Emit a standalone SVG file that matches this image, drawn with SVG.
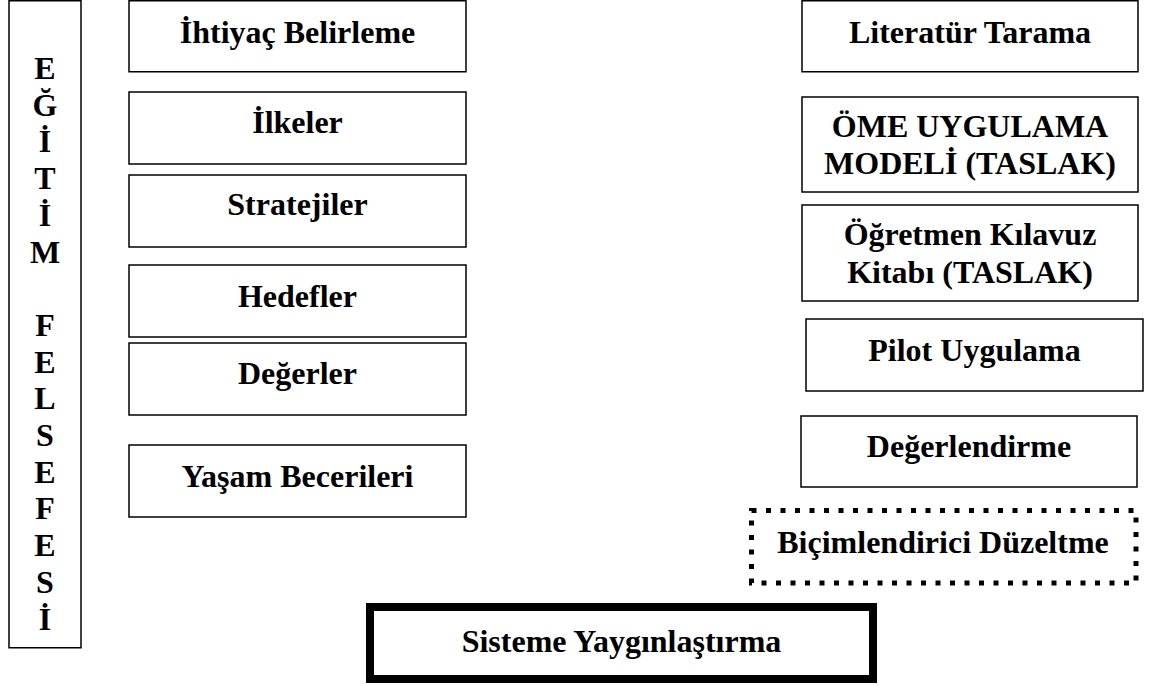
<svg xmlns="http://www.w3.org/2000/svg" width="1155" height="686" viewBox="0 0 1155 686">
  <style>
    .box { fill: #fff; stroke: #000; stroke-width: 1.5; }
    .dotted { fill: #fff; stroke: #000; stroke-width: 5; stroke-dasharray: 5 9.5; }
    .heavy { fill: #fff; stroke: #000; stroke-width: 8; }
    text { font-family: "Liberation Serif", "Times New Roman", serif; font-weight: bold; font-size: 32px; fill: #000; text-anchor: middle; }
  </style>
  <rect width="1155" height="686" fill="#fff"/>

  <!-- vertical philosophy bar -->
  <g id="egitim-felsefesi">
    <rect class="box" x="9" y="0.75" width="72" height="647"/>
    <text x="45" y="79">E</text>
    <text x="45" y="115.7">Ğ</text>
    <text x="45" y="152.4">İ</text>
    <text x="45" y="189.1">T</text>
    <text x="45" y="225.8">İ</text>
    <text x="45" y="262.5">M</text>
    <text x="45" y="335.9">F</text>
    <text x="45" y="372.6">E</text>
    <text x="45" y="409.3">L</text>
    <text x="45" y="446">S</text>
    <text x="45" y="482.7">E</text>
    <text x="45" y="519.4">F</text>
    <text x="45" y="556.1">E</text>
    <text x="45" y="592.8">S</text>
    <text x="45" y="629.5">İ</text>
  </g>

  <!-- left column -->
  <g id="ihtiyac-belirleme">
    <rect class="box" x="129" y="0.75" width="337" height="71"/>
    <text x="297.5" y="43">İhtiyaç Belirleme</text>
  </g>
  <g id="ilkeler">
    <rect class="box" x="129" y="92" width="337" height="72"/>
    <text x="297.5" y="133">İlkeler</text>
  </g>
  <g id="stratejiler">
    <rect class="box" x="129" y="175" width="337" height="72"/>
    <text x="297.5" y="215">Stratejiler</text>
  </g>
  <g id="hedefler">
    <rect class="box" x="129" y="265" width="337" height="72"/>
    <text x="297.5" y="307">Hedefler</text>
  </g>
  <g id="degerler">
    <rect class="box" x="129" y="343" width="337" height="72"/>
    <text x="297.5" y="384">Değerler</text>
  </g>
  <g id="yasam-becerileri">
    <rect class="box" x="129" y="445" width="337" height="72"/>
    <text x="297.5" y="487">Yaşam Becerileri</text>
  </g>

  <!-- right column -->
  <g id="literatur-tarama">
    <rect class="box" x="802" y="0.75" width="336" height="71"/>
    <text x="970" y="43">Literatür Tarama</text>
  </g>
  <g id="ome-model">
    <rect class="box" x="802" y="97" width="336" height="95"/>
    <text x="970" y="137">ÖME UYGULAMA</text>
    <text x="970" y="174">MODELİ (TASLAK)</text>
  </g>
  <g id="ogretmen-kilavuz">
    <rect class="box" x="802" y="205" width="336" height="96"/>
    <text x="970" y="245">Öğretmen Kılavuz</text>
    <text x="970" y="283">Kitabı (TASLAK)</text>
  </g>
  <g id="pilot-uygulama">
    <rect class="box" x="806" y="319" width="337" height="72"/>
    <text x="974.5" y="361">Pilot Uygulama</text>
  </g>
  <g id="degerlendirme">
    <rect class="box" x="801" y="416" width="336" height="71"/>
    <text x="969" y="457">Değerlendirme</text>
  </g>
  <g id="bicimlendirici-duzeltme">
    <rect class="dotted" x="751.5" y="510.5" width="384.5" height="72.5"/>
    <text x="943" y="553">Biçimlendirici Düzeltme</text>
  </g>

  <!-- final stage -->
  <g id="sisteme-yayginlastirma">
    <rect class="heavy" x="370" y="607" width="503" height="72"/>
    <text x="621.5" y="652">Sisteme Yaygınlaştırma</text>
  </g>

  <g id="connectors"></g>
</svg>
